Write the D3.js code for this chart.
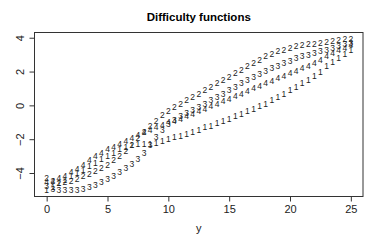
<!DOCTYPE html>
<html>
<head>
<meta charset="utf-8">
<script src="https://cdn.jsdelivr.net/npm/d3@7"></script>
<style>
  body { margin: 0; background: #fff; }
  svg { display: block; font-family: "Liberation Sans", Arial, sans-serif; }
</style>
</head>
<body>
<div id="chart"></div>
<script>
// values, x = 0, 0.5, ..., 25
var yVals = d3.range(0, 25.01, 0.5);

var fun1 = [-5.0, -4.85, -4.6, -4.4, -4.2, -4.0, -3.85, -3.6, -3.4, -3.2,
  -3.0, -2.8, -2.6, -2.45, -2.35, -2.3, -2.3, -2.3, -2.2, -2.1,
  -2.0, -1.9, -1.8, -1.7, -1.55, -1.45, -1.3, -1.2, -1.05, -0.95,
  -0.8, -0.65, -0.5, -0.35, -0.2, -0.05, 0.1, 0.3, 0.5, 0.7,
  0.9, 1.1, 1.3, 1.5, 1.75, 2.0, 2.3, 2.55, 2.8, 3.05, 3.25];
var fun2 = [-4.3, -4.5, -4.6, -4.55, -4.45, -4.35, -4.2, -4.05, -3.9, -3.7,
  -3.5, -3.25, -3.0, -2.7, -2.35, -1.95, -1.55, -1.2, -0.9, -0.6,
  -0.35, -0.1, 0.1, 0.3, 0.5, 0.7, 0.9, 1.1, 1.3, 1.5,
  1.7, 1.9, 2.1, 2.3, 2.5, 2.7, 2.9, 3.05, 3.2, 3.3,
  3.4, 3.5, 3.55, 3.6, 3.65, 3.7, 3.75, 3.8, 3.85, 3.9, 3.95];
var fun3 = [-4.75, -4.95, -5.0, -5.03, -5.03, -5.0, -4.95, -4.85, -4.7, -4.55,
  -4.35, -4.15, -3.95, -3.7, -3.45, -3.15, -2.8, -2.35, -1.85, -1.45,
  -1.1, -0.85, -0.65, -0.45, -0.3, -0.1, 0.1, 0.3, 0.5, 0.7,
  0.9, 1.1, 1.3, 1.5, 1.68, 1.85, 2.02, 2.2, 2.35, 2.5,
  2.65, 2.8, 2.9, 3.0, 3.1, 3.2, 3.3, 3.4, 3.5, 3.6, 3.7];
var fun4 = [-4.55, -4.45, -4.3, -4.15, -3.95, -3.75, -3.5, -3.25, -3.0, -2.8,
  -2.6, -2.45, -2.3, -2.1, -1.95, -1.75, -1.6, -1.45, -1.3, -1.15,
  -1.0, -0.9, -0.8, -0.65, -0.5, -0.35, -0.2, -0.05, 0.1, 0.25,
  0.4, 0.55, 0.7, 0.85, 1.0, 1.15, 1.3, 1.45, 1.6, 1.75,
  1.9, 2.05, 2.2, 2.35, 2.5, 2.7, 2.9, 3.1, 3.25, 3.4, 3.55];

var seriesLabels = ["1", "2", "3", "4"];
var seriesVals = [fun1, fun2, fun3, fun4];
var xTicks = [0, 5, 10, 15, 20, 25];
var yTicks = [-4, -2, 0, 2, 4];

var W = 382, H = 240;
var mLeft = 34.5, mRight = 363, mTop = 32.5, mBottom = 196.5;

var svg = d3.select("#chart").append("svg")
  .attr("width", W)
  .attr("height", H);

// R style 4% padding round the data range
function padded(lo, hi) {
  var d = (hi - lo) * 0.04;
  return [lo - d, hi + d];
}
var allV = d3.merge(seriesVals);

var x = d3.scaleLinear()
  .domain(padded(d3.min(yVals), d3.max(yVals)))
  .range([mLeft, mRight]);
var y = d3.scaleLinear()
  .domain(padded(d3.min(allV), d3.max(allV)))
  .range([mBottom, mTop]);

// title
svg.append("text")
  .attr("x", (mLeft + mRight) / 2)
  .attr("y", 21)
  .attr("text-anchor", "middle")
  .attr("font-weight", "bold")
  .attr("font-size", 11.5)
  .text("Difficulty functions");

// x axis
var xAxis = svg.append("g")
  .attr("transform", "translate(0," + mBottom + ")")
  .call(d3.axisBottom(x).tickValues(xTicks).tickSize(5).tickPadding(4)
    .tickFormat(function(d) { return d; }));
xAxis.select(".domain").remove();
xAxis.selectAll("line").attr("stroke", "#333");
xAxis.selectAll("text").attr("font-size", 11).attr("fill", "#222")
  .attr("font-family", "Liberation Sans, Arial, sans-serif");

// y axis, labels turned like R
var yAxis = svg.append("g")
  .attr("transform", "translate(" + mLeft + ",0)")
  .call(d3.axisLeft(y).tickValues(yTicks).tickSize(5).tickFormat(function(d) {
    return d < 0 ? "\u2212" + Math.abs(d) : d;
  }));
yAxis.select(".domain").remove();
yAxis.selectAll("line").attr("stroke", "#333");
yAxis.selectAll("text")
  .attr("font-size", 11).attr("fill", "#222")
  .attr("font-family", "Liberation Sans, Arial, sans-serif")
  .attr("x", 0).attr("y", 0)
  .attr("text-anchor", "middle")
  .attr("transform", "translate(-14,0) rotate(-90)")
  .attr("dy", "0.35em");

// box
svg.append("rect")
  .attr("x", mLeft).attr("y", mTop)
  .attr("width", mRight - mLeft).attr("height", mBottom - mTop)
  .attr("fill", "none").attr("stroke", "#333").attr("stroke-width", 1);

// x label
svg.append("text")
  .attr("x", (mLeft + mRight) / 2)
  .attr("y", 232)
  .attr("text-anchor", "middle")
  .attr("font-size", 11)
  .attr("fill", "#222")
  .text("y");

// the numbered points
seriesVals.forEach(function(vals, k) {
  svg.append("g").selectAll("text")
    .data(vals)
    .enter()
    .append("text")
    .attr("x", function(d, i) { return x(yVals[i]); })
    .attr("y", function(d) { return y(d); })
    .attr("dy", "0.35em")
    .attr("text-anchor", "middle")
    .attr("font-size", 8.5)
    .attr("fill", "#222")
    .text(seriesLabels[k]);
});
</script>
</body>
</html>
